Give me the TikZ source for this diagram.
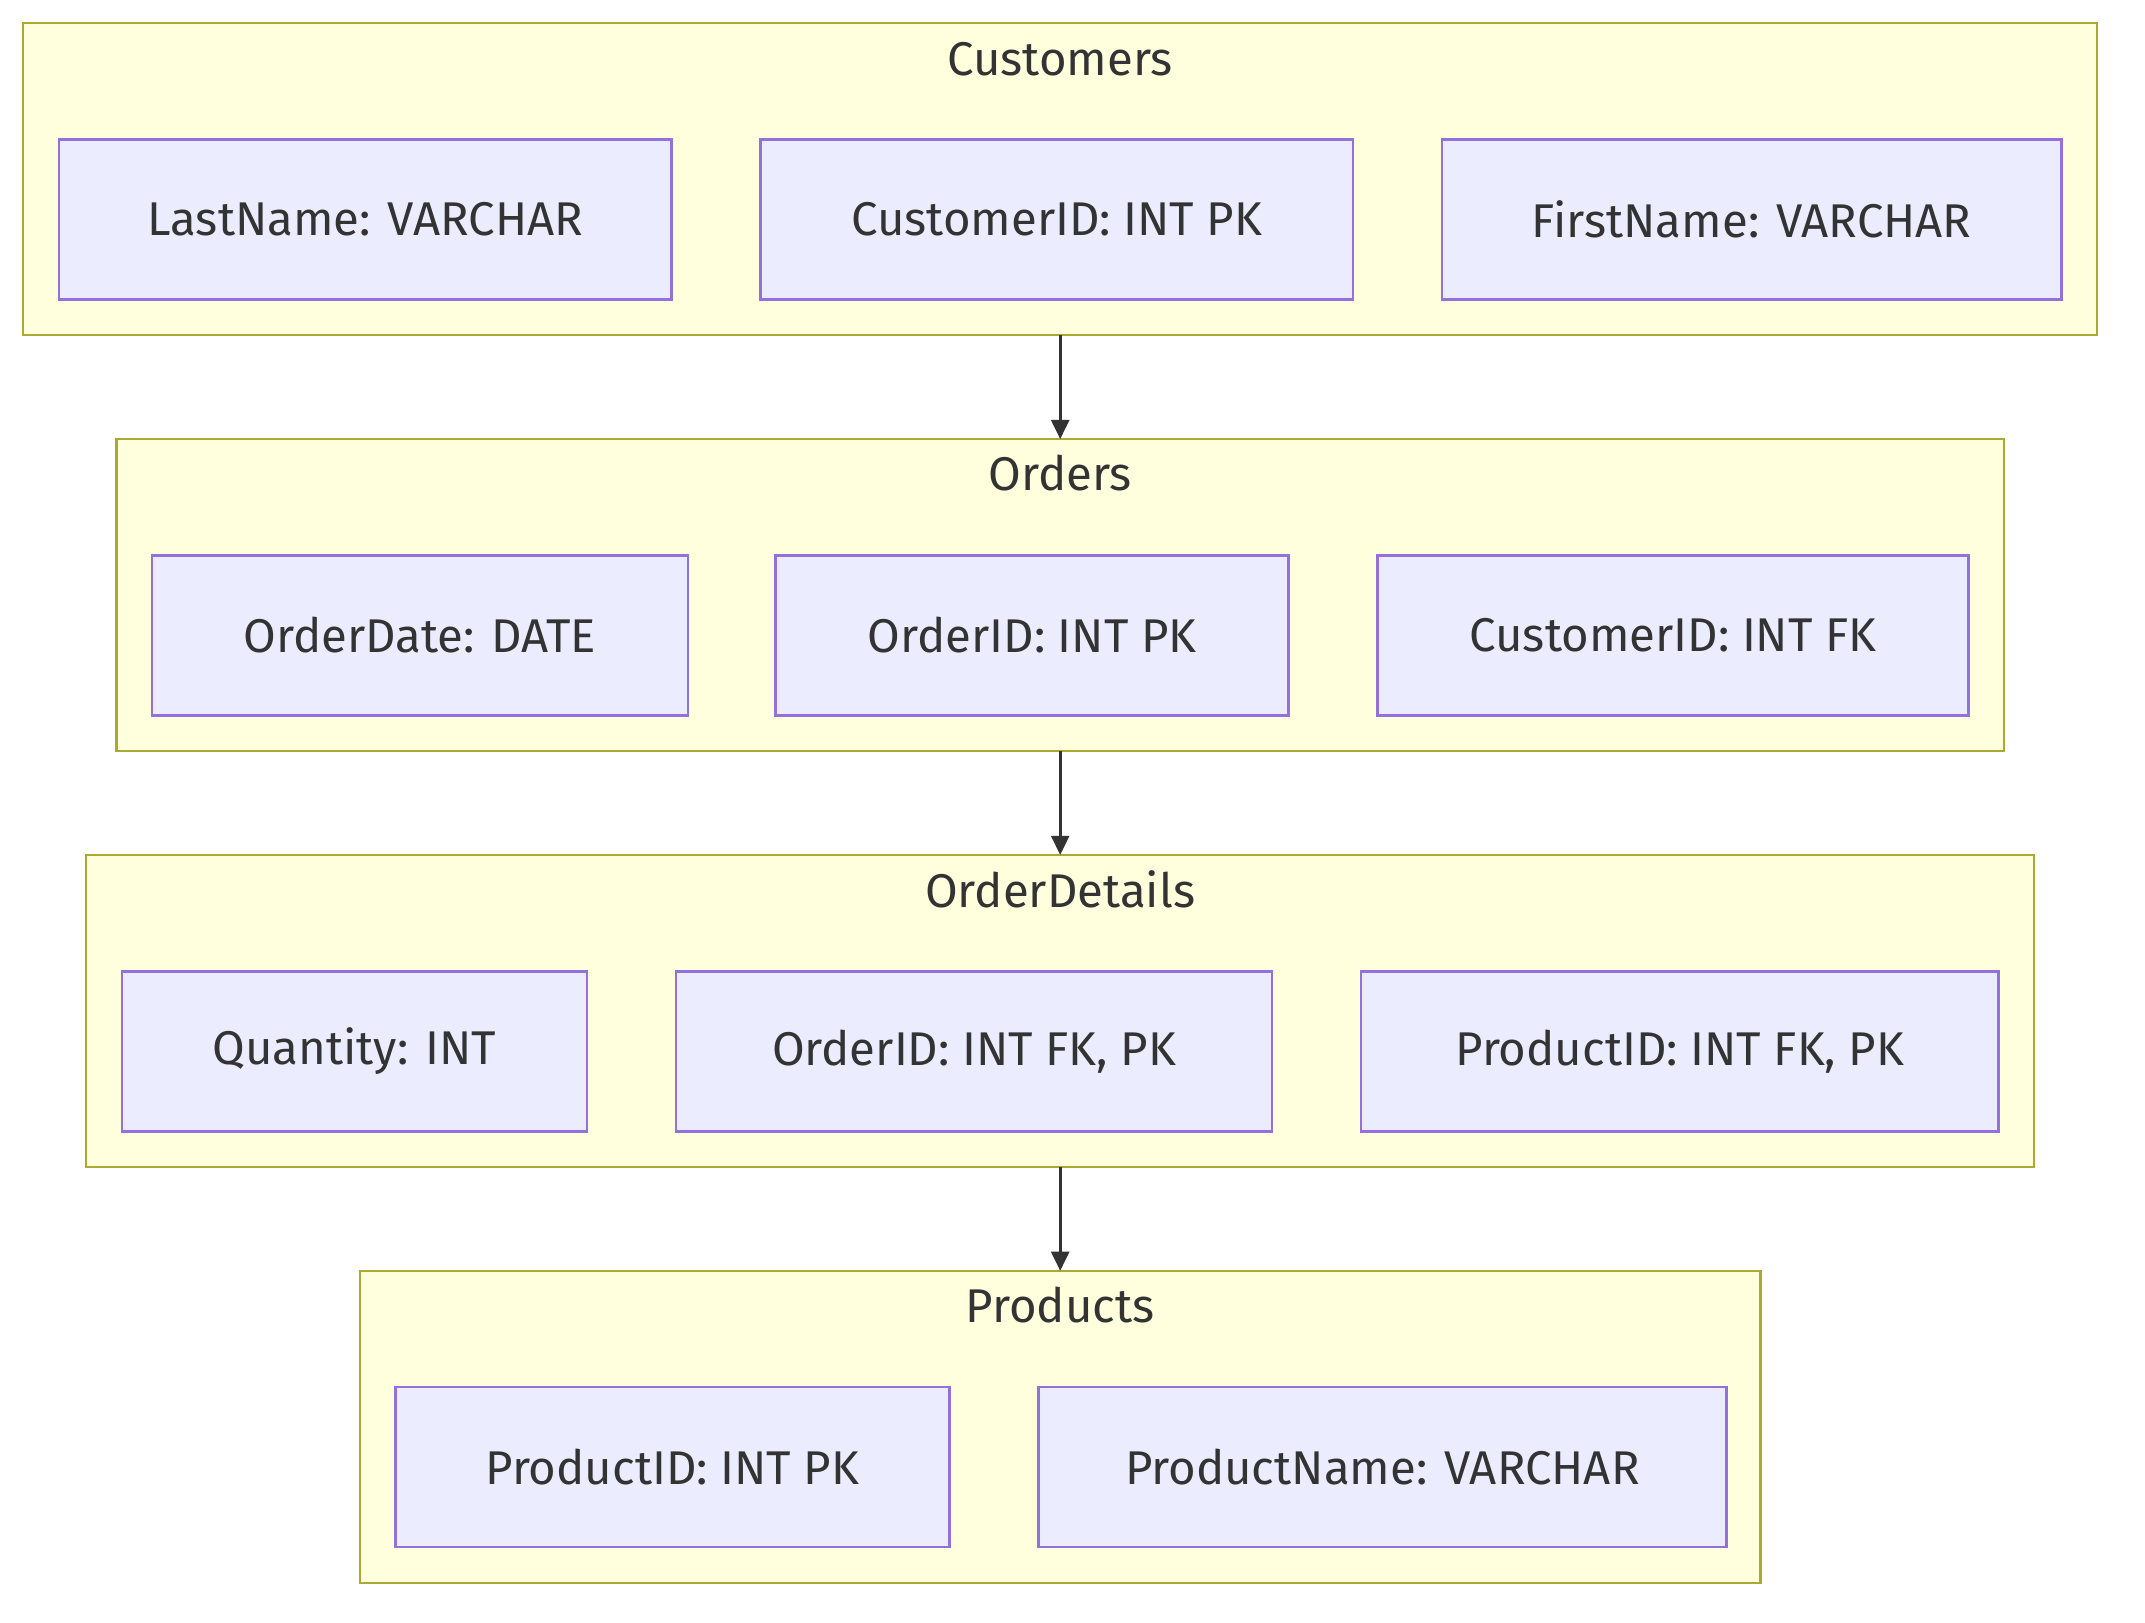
\documentclass[tikz,border=0pt]{standalone}
\usepackage{fontspec}
\setmainfont{Fira Sans}
\usepackage{tikz}
\usetikzlibrary{%
	arrows.meta,%
	positioning
}
\definecolor{clusterfill}{HTML}{FFFFDE}
\definecolor{clusterline}{HTML}{AAAA33}
\definecolor{fieldfill}{HTML}{ECECFF}
\definecolor{fieldline}{HTML}{9370DB}
\definecolor{inktext}{HTML}{333333}

\begin{document}
\begin{tikzpicture}[x=0.5pt,y=-0.5pt,
		table/.style={draw=clusterline,fill=clusterfill,line width=0.9pt,
			minimum height=114pt,inner sep=0pt,outer sep=0pt},
		field/.style={draw=fieldline,fill=fieldfill,line width=0.9pt,
			minimum height=58.5pt,inner sep=0pt,outer sep=0pt,
			text=inktext,font=\fontsize{17.3}{20}\selectfont},
		title/.style={text=inktext,font=\fontsize{17.3}{20}\selectfont},
		link/.style={draw=inktext,line width=1.1pt,-{Triangle[length=7pt,width=6.5pt]}}
	]
	\useasboundingbox (0,0) rectangle (1568,1186);
	
	% Customers
	\node[table,minimum width=758pt] (customers) at (775,131) {};
	\node[title] (customerstitle) at (775,43) {Customers};
	\node[field,minimum width=224pt] (lastname) at (267,160.5) {LastName: VARCHAR};
	\node[field,minimum width=216.5pt] (customerid) at (772.5,160.5) {CustomerID: INT PK};
	\node[field,minimum width=226.5pt] (firstname) at (1280.5,160.5) {FirstName: VARCHAR};
	
	% Orders
	\node[table,minimum width=690pt] (orders) at (775,435) {};
	\node[title] (orderstitle) at (775,346) {Orders};
	\node[field,minimum width=196pt] (orderdate) at (307,464.5) {OrderDate: DATE};
	\node[field,minimum width=187.5pt] (orderid) at (754.5,464.5) {OrderID: INT PK};
	\node[field,minimum width=216pt] (ordercustomer) at (1223,464.5) {CustomerID: INT FK};
	
	% OrderDetails
	\node[table,minimum width=712pt] (details) at (775,739) {};
	\node[title] (detailstitle) at (775,650) {OrderDetails};
	\node[field,minimum width=170pt] (quantity) at (259,768.5) {Quantity: INT};
	\node[field,minimum width=218pt] (detailorder) at (712,768.5) {OrderID: INT FK, PK};
	\node[field,minimum width=233pt] (detailproduct) at (1228,768.5) {ProductID: INT FK, PK};
	
	% Products
	\node[table,minimum width=512pt] (products) at (775,1043) {};
	\node[title] (productstitle) at (775,954) {Products};
	\node[field,minimum width=202.5pt] (productid) at (491.5,1072.5) {ProductID: INT PK};
	\node[field,minimum width=251.5pt] (productname) at (1010.5,1072.5) {ProductName: VARCHAR};
	
	% Links
	\draw[link] (customers.south) -- (orders.north);
	\draw[link] (orders.south) -- (details.north);
	\draw[link] (details.south) -- (products.north);
\end{tikzpicture}
\end{document}
